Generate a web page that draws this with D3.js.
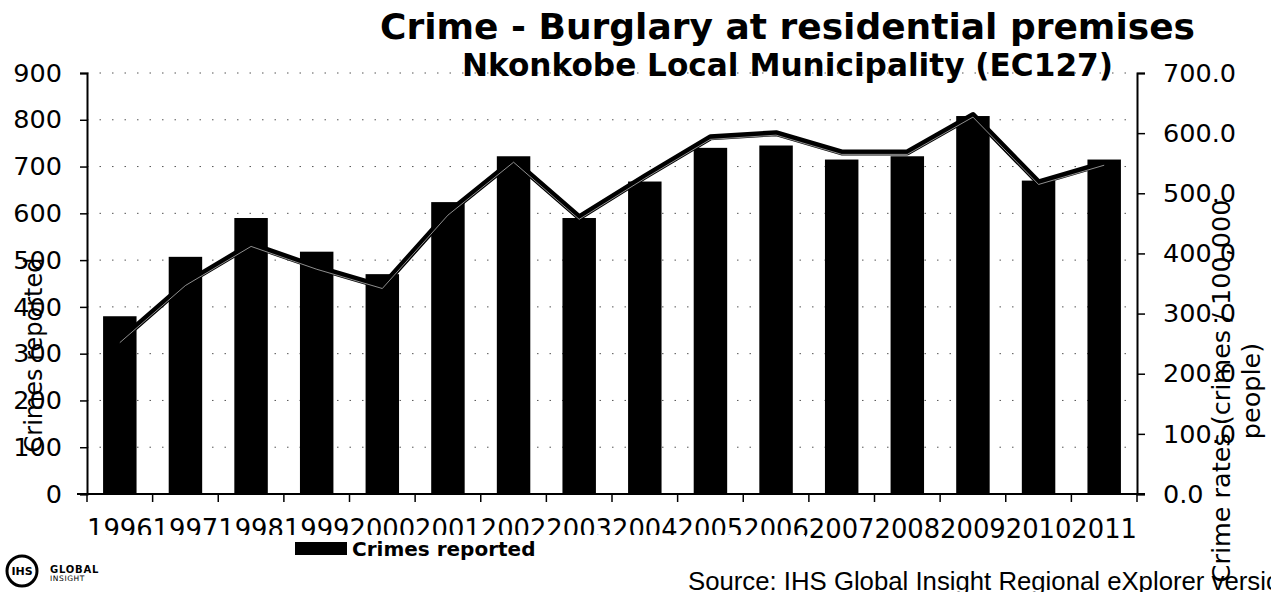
<!DOCTYPE html>
<html>
<head>
<meta charset="utf-8">
<script src="https://cdn.jsdelivr.net/npm/d3@7/dist/d3.min.js"></script>
<style>
  html, body { margin: 0; padding: 0; background: #fff; }
  svg { display: block; }
</style>
</head>
<body>
<svg id="chart" width="1271" height="599"></svg>
<script>
// Burglary at residential premises, Nkonkobe Local Municipality (EC127)
const years = ["1996","1997","1998","1999","2000","2001","2002","2003",
               "2004","2005","2006","2007","2008","2009","2010","2011"];
// Number of crimes reported (left axis)
const crimesReported = [380, 507, 590, 518, 470, 624, 722, 590,
                        668, 740, 745, 715, 722, 808, 670, 715];
// Crime rate per 100,000 people (right axis)
const crimeRates = [255, 350, 415, 377, 345, 467, 555, 460,
                    528, 593, 600, 568, 568, 630, 518, 550];
const leftTicks = [0, 100, 200, 300, 400, 500, 600, 700, 800, 900];
const rightTicks = [0, 100, 200, 300, 400, 500, 600, 700];

const svg = d3.select("#chart");
const W = 1271, H = 599;
const plot = { left: 87, right: 1137, top: 73, bottom: 494 };
const FONT = "'DejaVu Sans', Verdana, sans-serif";

svg.append("rect").attr("width", W).attr("height", H).attr("fill", "#fff");

const x = d3.scaleBand()
  .domain(years)
  .range([plot.left, plot.right])
  .paddingInner(0.49)
  .paddingOuter(0.245);
const yLeft = d3.scaleLinear().domain([0, 900]).range([plot.bottom, plot.top]);
const yRight = d3.scaleLinear().domain([0, 700]).range([plot.bottom, plot.top]);

// sparse dotted horizontal gridlines
svg.append("g")
  .selectAll("line")
  .data(leftTicks.filter(d => d > 0))
  .join("line")
  .attr("x1", plot.left).attr("x2", plot.right)
  .attr("y1", d => yLeft(d)).attr("y2", d => yLeft(d))
  .attr("stroke", "#555")
  .attr("stroke-width", 1)
  .attr("stroke-dasharray", "1.5 11");

// titles, sized to a target width
function fitText(sel, width) {
  const w = sel.node().getComputedTextLength();
  const fs = parseFloat(sel.attr("font-size"));
  sel.attr("font-size", (fs * width / w).toFixed(2));
}
const title = svg.append("text")
  .attr("x", 380).attr("y", 39)
  .attr("font-family", FONT).attr("font-weight", "bold")
  .attr("font-size", 32).attr("fill", "#000")
  .text("Crime - Burglary at residential premises");
fitText(title, 815);

const subtitle = svg.append("text")
  .attr("x", 462).attr("y", 76)
  .attr("font-family", FONT).attr("font-weight", "bold")
  .attr("font-size", 26).attr("fill", "#000")
  .text("Nkonkobe Local Municipality (EC127)");
fitText(subtitle, 651);

// bars
svg.append("g")
  .selectAll("rect")
  .data(years)
  .join("rect")
  .attr("x", d => x(d))
  .attr("width", x.bandwidth())
  .attr("y", (d, i) => yLeft(crimesReported[i]))
  .attr("height", (d, i) => yLeft(0) - yLeft(crimesReported[i]))
  .attr("fill", "#000");

// crime rate line: heavy black stroke with a thin light highlight
const line = d3.line()
  .x((d, i) => x(years[i]) + x.bandwidth() / 2)
  .y(d => yRight(d));
svg.append("path")
  .datum(crimeRates)
  .attr("d", line)
  .attr("fill", "none")
  .attr("stroke", "#000")
  .attr("stroke-width", 6)
  .attr("stroke-linejoin", "round");
svg.append("path")
  .datum(crimeRates)
  .attr("d", line)
  .attr("transform", "translate(0,2)")
  .attr("fill", "none")
  .attr("stroke", "#fff")
  .attr("stroke-width", 0.8)
  .attr("stroke-opacity", 0.7)
  .attr("stroke-linejoin", "round");

// left axis
const gL = svg.append("g")
  .attr("transform", `translate(${plot.left},0)`)
  .call(d3.axisLeft(yLeft).tickValues(leftTicks).tickSize(7).tickPadding(18).tickFormat(d3.format("d")));
// right axis
const gR = svg.append("g")
  .attr("transform", `translate(${plot.right},0)`)
  .call(d3.axisRight(yRight).tickValues(rightTicks).tickSize(8).tickPadding(18).tickFormat(d3.format(".1f")));
[gL, gR].forEach(g => {
  g.select(".domain").attr("stroke", "#000").attr("stroke-width", 2);
  g.selectAll(".tick line").attr("stroke", "#000").attr("stroke-width", 1.5);
  g.selectAll(".tick text")
    .attr("font-family", FONT).attr("font-size", 25.5).attr("fill", "#000");
});

// bottom axis: line, ticks between categories, year labels
const gB = svg.append("g");
gB.append("line")
  .attr("x1", plot.left - 10).attr("x2", plot.right + 8)
  .attr("y1", plot.bottom).attr("y2", plot.bottom)
  .attr("stroke", "#000").attr("stroke-width", 2);
const step = x.step();
const boundaries = d3.range(years.length + 1).map(i => plot.left + i * step);
gB.selectAll("line.tk")
  .data(boundaries)
  .join("line")
  .attr("class", "tk")
  .attr("x1", d => d).attr("x2", d => d)
  .attr("y1", plot.bottom).attr("y2", plot.bottom + 8)
  .attr("stroke", "#000").attr("stroke-width", 1.5);
gB.selectAll("text")
  .data(years)
  .join("text")
  .attr("x", d => x(d) + x.bandwidth() / 2)
  .attr("y", 538)
  .attr("text-anchor", "middle")
  .attr("font-family", FONT).attr("font-size", 25.8).attr("fill", "#000")
  .text(d => d);

// axis titles
svg.append("text")
  .attr("transform", "translate(42,355) rotate(-90)")
  .attr("text-anchor", "middle")
  .attr("font-family", FONT).attr("font-size", 24).attr("fill", "#000")
  .text("Crimes reported");
const rt = svg.append("text")
  .attr("transform", "translate(1230,391) rotate(-90)")
  .attr("text-anchor", "middle")
  .attr("font-family", FONT).attr("font-size", 25.5).attr("fill", "#000");
rt.append("tspan").attr("x", 0).attr("dy", 0).text("Crime rates (crimes / 100,000");
rt.append("tspan").attr("x", 0).attr("dy", 30).text("people)");

// legend
const legend = svg.append("g");
legend.append("rect")
  .attr("x", 80).attr("y", 535).attr("width", 725).attr("height", 26)
  .attr("fill", "#fff");
legend.append("rect")
  .attr("x", 295).attr("y", 542).attr("width", 52).attr("height", 13)
  .attr("fill", "#000");
legend.append("text")
  .attr("x", 352).attr("y", 556)
  .attr("font-family", FONT).attr("font-weight", "bold")
  .attr("font-size", 20).attr("fill", "#000")
  .text("Crimes reported");

// source note, runs past the right edge
svg.append("defs").append("clipPath").attr("id", "srcClip")
  .append("rect").attr("x", 0).attr("y", 0).attr("width", W).attr("height", 592);
const src = svg.append("text")
  .attr("x", 688).attr("y", 590)
  .attr("clip-path", "url(#srcClip)")
  .attr("font-family", "'Liberation Sans', Arial, sans-serif")
  .attr("font-size", 23).attr("fill", "#000")
  .text("Source: IHS Global Insight Regional eXplorer versi");
fitText(src, 578);
src.text("Source: IHS Global Insight Regional eXplorer version 2.5");

// publisher mark
const logo = svg.append("g");
logo.append("circle")
  .attr("cx", 22).attr("cy", 571).attr("r", 15)
  .attr("fill", "#fff").attr("stroke", "#000").attr("stroke-width", 3);
logo.append("text")
  .attr("x", 22).attr("y", 575).attr("text-anchor", "middle")
  .attr("font-family", FONT).attr("font-weight", "bold")
  .attr("font-size", 11).attr("fill", "#000")
  .text("IHS");
logo.append("text")
  .attr("x", 50).attr("y", 573)
  .attr("font-family", FONT).attr("font-weight", "bold")
  .attr("font-size", 10).attr("fill", "#000")
  .attr("letter-spacing", 0.8)
  .text("GLOBAL");
logo.append("text")
  .attr("x", 50).attr("y", 581)
  .attr("font-family", FONT)
  .attr("font-size", 7.5).attr("fill", "#000")
  .attr("letter-spacing", 0.6)
  .text("INSIGHT");
</script>
</body>
</html>
